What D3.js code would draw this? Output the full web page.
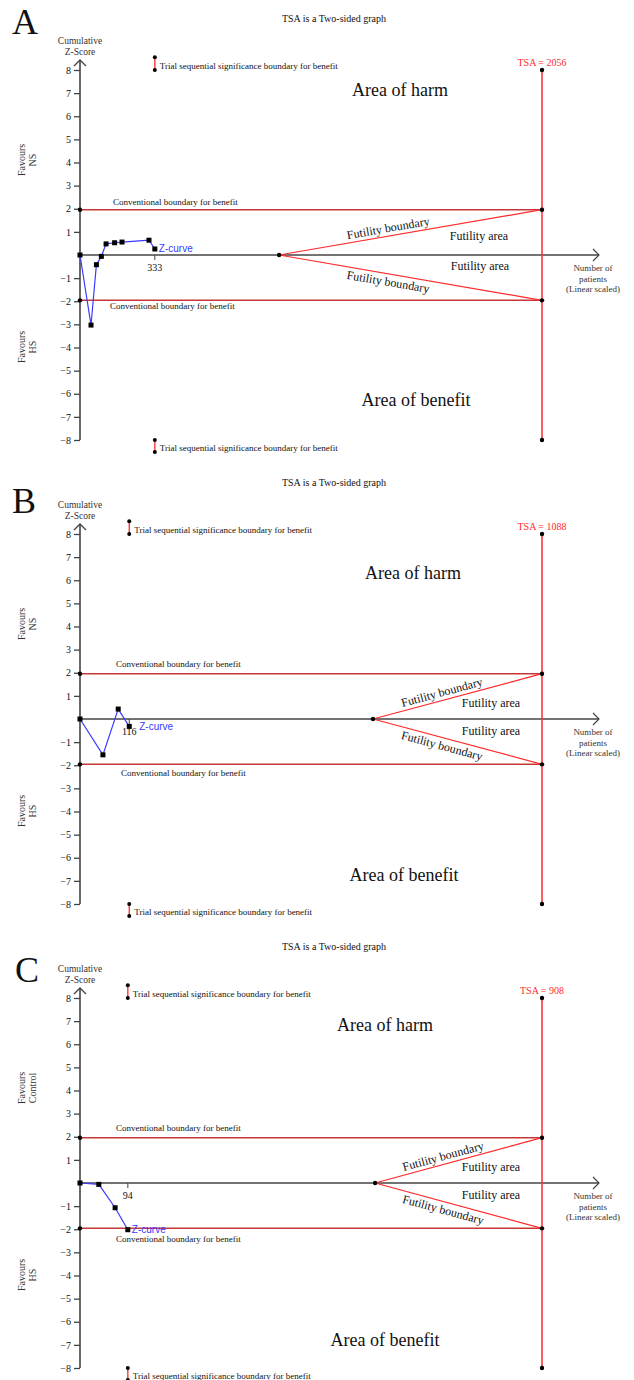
<!DOCTYPE html>
<html><head><meta charset="utf-8">
<script src="https://cdn.jsdelivr.net/npm/d3@7"></script>
<style>
body{margin:0;background:#fff}
svg{display:block}
text{font-family:"Liberation Serif","Times New Roman",serif;fill:#111}
</style>
</head><body>
<svg id="chart" width="634" height="1380"></svg>
<script>
// ---------- data ----------
const panelLetters = ["A", "B", "C"];
const tsaSizes = [2056, 1088, 908];
const futilityStarts = [886, 690, 580];
const favoursUpper = ["NS", "NS", "Control"];
const favoursLower = ["HS", "HS", "HS"];

const zPatientsA = [0, 49, 73, 95, 116, 154, 187, 307, 333];
const zScoresA   = [0, -3.03, -0.42, -0.06, 0.48, 0.53, 0.56, 0.64, 0.26];
const zPatientsB = [0, 54, 90, 116];
const zScoresB   = [0, -1.55, 0.43, -0.32];
const zPatientsC = [0, 37, 69, 94];
const zScoresC   = [0, -0.06, -1.07, -2.02];

const yTickValues = [8, 7, 6, 5, 4, 3, 2, 1, -1, -2, -3, -4, -5, -6, -7, -8];
const conventionalZ = 1.96;
const zLimit = 8;
const sigBoundaryUpper = [8, 8.55];
const sigBoundaryLower = [-8, -8.52];

const titleText = "TSA is a Two-sided graph";
const convLabel = "Conventional boundary for benefit";
const sigLabel = "Trial sequential significance boundary for benefit";

// ---------- layout ----------
const panelTops = [0, 464, 928];
const letterBaselines = [34, 49, 54];
const letterX = [12, 12, 15];
const x0 = 80, xTsa = 542, xArrow = 599;
const yTop = 70, yBottom = 440;
const convUpperLabel = [[113, -53], [116, -55], [116, -55]];
const convLowerLabel = [[110, 51], [121, 54], [116, 56]];
const areaUpperPos = [[479, -19], [491, -16], [491, -16]];
const areaLowerPos = [[480, 11], [491, 12], [491, 12]];
const harmPos = [[400, -165], [413, -146], [385, -158]];
const benefitPos = [[416, 145], [404, 156], [385, 157]];
const zLabelDx = [4, 10, 4];

const zPatients = [zPatientsA, zPatientsB, zPatientsC];
const zScores = [zScoresA, zScoresB, zScoresC];

const svg = d3.select("#chart");
const red = "#ff2a2a", convRed = "#c83737", blue = "#3a3aff";

panelLetters.forEach((letter, i) => {
  const g = svg.append("g").attr("transform", `translate(0,${panelTops[i]})`);
  const x = d3.scaleLinear().domain([0, tsaSizes[i]]).range([x0, xTsa]);
  const y = d3.scaleLinear().domain([-zLimit, zLimit]).range([yBottom, yTop]);
  const zy = y(0);

  // title & letter
  g.append("text").attr("x", 334).attr("y", 22).attr("text-anchor", "middle")
    .style("font-size", "10px").text(titleText);
  g.append("text").attr("x", letterX[i]).attr("y", letterBaselines[i])
    .style("font-size", "36px").text(letter);

  // y axis label
  const yl = g.append("text").attr("text-anchor", "middle").style("font-size", "9.5px").style("fill", "#333");
  yl.append("tspan").attr("x", 80).attr("y", 44).text("Cumulative");
  yl.append("tspan").attr("x", 80).attr("y", 55).text("Z-Score");

  // favours labels (rotated)
  [[favoursUpper[i], zy - 95], [favoursLower[i], zy + 92]].forEach(([lab, cy]) => {
    const t = g.append("text").attr("transform", `translate(0,${cy}) rotate(-90)`)
      .attr("text-anchor", "middle").style("font-size", "10px").style("fill", "#333");
    t.append("tspan").attr("x", 0).attr("y", 25).text("Favours");
    t.append("tspan").attr("x", 0).attr("y", 36).text(lab);
  });

  // y axis
  const yAxis = d3.axisLeft(y).tickValues(yTickValues).tickSize(6).tickPadding(3);
  const ya = g.append("g").attr("transform", `translate(${x0},0)`).call(yAxis);
  ya.select(".domain").remove();
  ya.selectAll(".tick line").attr("stroke", "#444").attr("stroke-width", 1.3);
  ya.selectAll(".tick text").style("font-family", "Liberation Serif, serif").style("font-size", "10px").attr("fill", "#333");
  g.append("line").attr("x1", x0).attr("x2", x0).attr("y1", yBottom).attr("y2", 60)
    .attr("stroke", "#444").attr("stroke-width", 1.6);
  g.append("path").attr("d", `M${x0 - 6},66 L${x0},60 L${x0 + 6},66`)
    .attr("fill", "none").attr("stroke", "#444").attr("stroke-width", 1.3);

  // x axis
  g.append("line").attr("x1", x0).attr("x2", xArrow).attr("y1", zy).attr("y2", zy)
    .attr("stroke", "#444").attr("stroke-width", 1.3);
  g.append("path").attr("d", `M${xArrow - 6},${zy - 6} L${xArrow},${zy} L${xArrow - 6},${zy + 6}`)
    .attr("fill", "none").attr("stroke", "#444").attr("stroke-width", 1.2);
  const xl = g.append("text").attr("text-anchor", "middle").style("font-size", "9px").style("fill", "#333");
  ["Number of", "patients", "(Linear scaled)"].forEach((s, k) =>
    xl.append("tspan").attr("x", 593).attr("y", zy + 16 + k * 10.5).text(s));

  // conventional boundaries
  [conventionalZ, -conventionalZ].forEach(z => {
    g.append("line").attr("x1", x0).attr("x2", x(tsaSizes[i])).attr("y1", y(z)).attr("y2", y(z))
      .attr("stroke", convRed).attr("stroke-width", 1.5);
  });
  g.append("text").attr("x", convUpperLabel[i][0]).attr("y", zy + convUpperLabel[i][1] + 3)
    .style("font-size", "9px").text(convLabel);
  g.append("text").attr("x", convLowerLabel[i][0]).attr("y", zy + convLowerLabel[i][1] + 3)
    .style("font-size", "9px").text(convLabel);

  // futility boundaries
  const fx = x(futilityStarts[i]);
  [conventionalZ, -conventionalZ].forEach(z => {
    g.append("line").attr("x1", fx).attr("y1", zy).attr("x2", x(tsaSizes[i])).attr("y2", y(z))
      .attr("stroke", red).attr("stroke-width", 1.2);
  });
  const dx = x(tsaSizes[i]) - fx, dy = zy - y(conventionalZ);
  const ang = Math.atan2(dy, dx) * 180 / Math.PI;
  const t = 0.42;
  const ux = fx + dx * t;
  g.append("text").attr("transform", `translate(${ux},${zy - dy * t}) rotate(${-ang})`)
    .attr("text-anchor", "middle").attr("y", -4).style("font-size", "12px").text("Futility boundary");
  g.append("text").attr("transform", `translate(${ux},${zy + dy * t}) rotate(${ang})`)
    .attr("text-anchor", "middle").attr("y", 12).style("font-size", "12px").text("Futility boundary");
  g.append("text").attr("x", areaUpperPos[i][0]).attr("y", zy + areaUpperPos[i][1] + 4)
    .attr("text-anchor", "middle").style("font-size", "12px").text("Futility area");
  g.append("text").attr("x", areaLowerPos[i][0]).attr("y", zy + areaLowerPos[i][1] + 4)
    .attr("text-anchor", "middle").style("font-size", "12px").text("Futility area");

  // TSA vertical line
  const tx = x(tsaSizes[i]);
  g.append("line").attr("x1", tx).attr("x2", tx).attr("y1", y(zLimit)).attr("y2", y(-zLimit))
    .attr("stroke", red).attr("stroke-width", 1.5);
  g.append("text").attr("x", tx).attr("y", y(zLimit) - 4).attr("text-anchor", "middle")
    .style("font-size", "10px").style("fill", red).text(`TSA = ${tsaSizes[i]}`);

  // dots
  const dots = [[tx, y(zLimit)], [tx, y(-zLimit)], [tx, y(conventionalZ)], [tx, y(-conventionalZ)],
    [x0, y(conventionalZ)], [x0, y(-conventionalZ)], [fx, zy]];
  dots.forEach(([cx, cy]) => g.append("circle").attr("cx", cx).attr("cy", cy).attr("r", 2.2).attr("fill", "#000"));

  // area labels
  g.append("text").attr("x", harmPos[i][0]).attr("y", zy + harmPos[i][1] + 6).attr("text-anchor", "middle")
    .style("font-size", "18px").text("Area of harm");
  g.append("text").attr("x", benefitPos[i][0]).attr("y", zy + benefitPos[i][1] + 6).attr("text-anchor", "middle")
    .style("font-size", "18px").text("Area of benefit");

  // z-curve
  const pts = zPatients[i].map((p, k) => [p, zScores[i][k]]);
  g.append("path").datum(pts)
    .attr("d", d3.line().x(d => x(d[0])).y(d => y(d[1])))
    .attr("fill", "none").attr("stroke", blue).attr("stroke-width", 1.2);
  g.selectAll(".zpt" + i).data(pts).enter().append("rect")
    .attr("x", d => x(d[0]) - 2.5).attr("y", d => y(d[1]) - 2.5)
    .attr("width", 5).attr("height", 5).attr("fill", "#000");
  const last = pts[pts.length - 1];
  const lx = x(last[0]);
  g.append("text").attr("x", lx + zLabelDx[i]).attr("y", y(last[1]) + 3.5)
    .style("font-family", "Liberation Sans, Arial, sans-serif").style("font-size", "10px")
    .style("fill", blue).text("Z-curve");
  // x tick for last patient count
  g.append("line").attr("x1", lx).attr("x2", lx).attr("y1", zy).attr("y2", zy + 5)
    .attr("stroke", "#444").attr("stroke-width", 1);
  g.append("text").attr("x", lx).attr("y", zy + 16).attr("text-anchor", "middle")
    .style("font-size", "10px").text(last[0]);

  // trial sequential significance boundary markers
  [sigBoundaryUpper, sigBoundaryLower].forEach(b => {
    g.append("line").attr("x1", lx).attr("x2", lx).attr("y1", y(b[0])).attr("y2", y(b[1]))
      .attr("stroke", red).attr("stroke-width", 1.3);
    b.forEach(z => g.append("circle").attr("cx", lx).attr("cy", y(z)).attr("r", 2).attr("fill", "#000"));
    g.append("text").attr("x", lx + 5).attr("y", (y(b[0]) + y(b[1])) / 2 + 5)
      .style("font-size", "9px").text(sigLabel);
  });
});
</script>
</body></html>
